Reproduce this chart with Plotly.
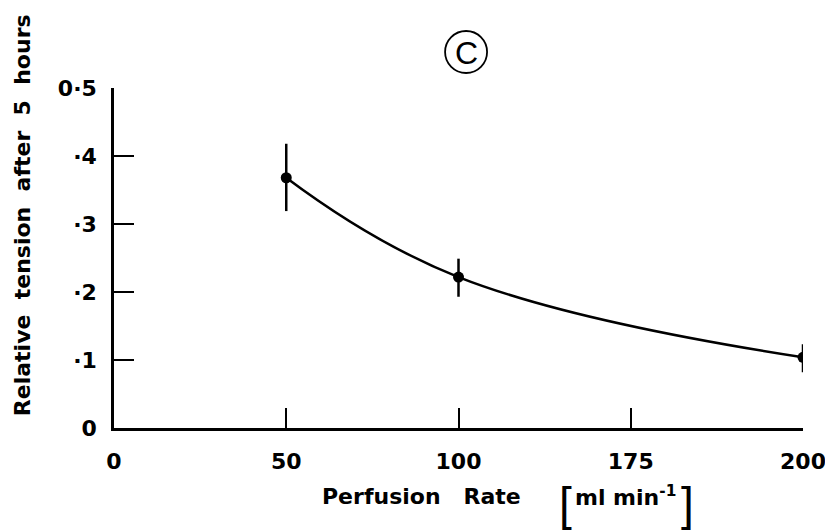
import plotly.graph_objects as go

# Data
tick_labels = ["0", "50", "100", "175", "200"]
tick_pos = [0, 1, 2, 3, 4]
rate_pos = [1, 2, 4]            # positions of 50, 100, 200 on the (equally spaced) axis
tension = [0.368, 0.222, 0.104]
err_plus = [0.050, 0.027, 0.019]
err_minus = [0.049, 0.029, 0.022]
y_ticks = [0, 0.1, 0.2, 0.3, 0.4, 0.5]
y_tick_text = ["0", "·1", "·2", "·3", "·4", "0·5"]

NB = "\u00a0"

fig = go.Figure()
fig.add_trace(go.Scatter(
    x=rate_pos, y=tension, mode="lines",
    line=dict(color="black", width=2.5, shape="spline", smoothing=1.2),
    hoverinfo="skip", showlegend=False))
fig.add_trace(go.Scatter(
    x=rate_pos, y=tension, mode="markers",
    marker=dict(color="black", size=11),
    error_y=dict(type="data", symmetric=False, array=err_plus, arrayminus=err_minus,
                 color="black", thickness=2.5, width=0),
    showlegend=False))

tick_font = dict(family="DejaVu Sans, sans-serif", size=22, color="black", weight="bold")
title_font = dict(family="DejaVu Sans, sans-serif", size=22, color="black", weight="bold")
bracket_font = dict(family="Liberation Sans, sans-serif", size=46, color="black")

ytitle = (NB * 2).join(["Relative", "tension", "after", "5", "hours"])
xtitle = "Perfusion" + NB * 3 + "Rate"

fig.update_layout(
    width=833, height=532,
    margin=dict(l=106, r=38, t=80, b=112, autoexpand=False),
    plot_bgcolor="white", paper_bgcolor="white",
    xaxis=dict(range=[0, 4], tickvals=tick_pos, ticktext=tick_labels, automargin=False,
               showline=True, linecolor="black", linewidth=2.5,
               ticks="inside", ticklen=20, tickwidth=2, tickcolor="black",
               showgrid=False, zeroline=False, tickfont=tick_font, ticklabelstandoff=12),
    yaxis=dict(range=[0, 0.5], tickvals=y_ticks, ticktext=y_tick_text, automargin=False,
               showline=True, linecolor="black", linewidth=2.5,
               ticks="inside", ticklen=20, tickwidth=2, tickcolor="black",
               showgrid=False, zeroline=False, tickfont=tick_font, ticklabelstandoff=10),
    annotations=[
        dict(text=ytitle, xref="paper", yref="paper",
             x=0, y=0.626, xanchor="center", yanchor="middle", xshift=-92,
             textangle=-90, showarrow=False, font=title_font),
        dict(text=xtitle, xref="paper", yref="paper",
             x=0.4456, y=0, xanchor="center", yanchor="middle", yshift=-68,
             showarrow=False, font=title_font),
        dict(text="ml" + NB + "min<sup>-1</sup>", xref="paper", yref="paper",
             x=0.743, y=0, xanchor="center", yanchor="middle", yshift=-68,
             showarrow=False, font=title_font),
        dict(text="[", xref="paper", yref="paper",
             x=0.656, y=0, xanchor="center", yanchor="middle", yshift=-76,
             showarrow=False, font=bracket_font),
        dict(text="]", xref="paper", yref="paper",
             x=0.833, y=0, xanchor="center", yanchor="middle", yshift=-76,
             showarrow=False, font=bracket_font),
        dict(text="C", xref="paper", yref="paper", x=0.511, y=1, xanchor="center",
             yanchor="middle", yshift=35, showarrow=False,
             font=dict(family="Liberation Sans, Arial, sans-serif", size=32, color="black")),
    ],
    shapes=[
        dict(type="circle", xref="paper", yref="paper", xsizemode="pixel", ysizemode="pixel",
             xanchor=0.511, yanchor=1, x0=-21, x1=21, y0=15, y1=57,
             line=dict(color="black", width=1.8)),
    ],
)

fig.write_html("out.html")
